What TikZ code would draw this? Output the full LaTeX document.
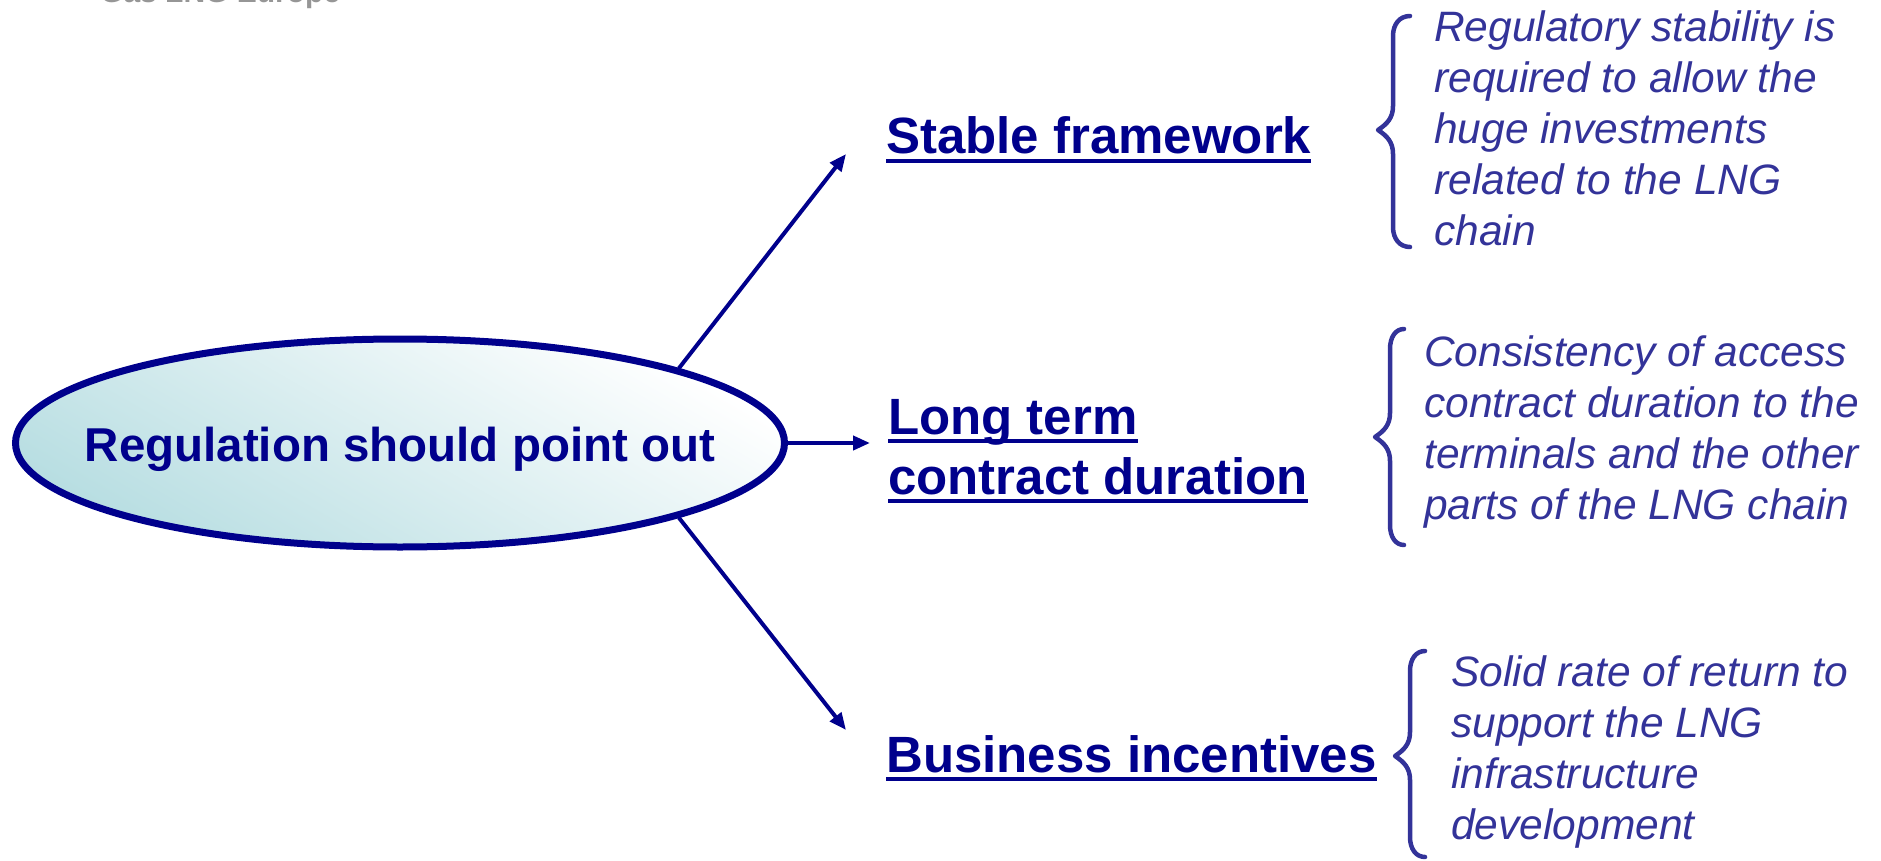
\documentclass[tikz,border=0pt]{standalone}
\usepackage{fontspec}
\setmainfont{Liberation Sans}
\usetikzlibrary{shapes.geometric,arrows.meta}
\definecolor{navy}{RGB}{0,0,140}
\definecolor{descc}{RGB}{51,51,153}
\definecolor{tealc}{RGB}{184,222,226}
\definecolor{logoc}{RGB}{150,150,150}
\newcommand{\ulin}[1]{\setbox0\hbox{#1}\rlap{\rule[-0.18em]{\wd0}{0.09em}}\box0}
\newcommand{\mybrace}[6]{% xr xm xt yt ym yb
\draw[bracec] (#1,#4) .. controls ({#2+0.4*(#1-#2)},#4) and (#2,{#4+8}) .. (#2,{#4+20})
  -- (#2,{#5-24}) .. controls (#2,{#5-12}) and ({#3+9},{#5-6}) .. (#3,#5)
  .. controls ({#3+9},{#5+6}) and (#2,{#5+12}) .. (#2,{#5+24})
  -- (#2,{#6-20}) .. controls (#2,{#6-8}) and ({#2+0.4*(#1-#2)},#6) .. (#1,#6);}
\begin{document}
\begin{tikzpicture}[x=1pt,y=-1pt,
  head/.style={anchor=base west, inner sep=0pt, text=navy, font=\fontsize{51}{60}\selectfont\bfseries},
  desc/.style={anchor=base west, inner sep=0pt, text=descc, font=\fontsize{42.5}{51}\selectfont\itshape},
  logo/.style={anchor=base west, inner sep=0pt, text=logoc, font=\fontsize{30}{36}\selectfont\bfseries},
  conn/.style={draw=navy, line width=4pt, -{Triangle[length=17pt,width=14pt]}},
  bracec/.style={draw=descc, line width=4.5pt, line cap=round, line join=round}]
\useasboundingbox (0,0) rectangle (1881,861);

\node[logo] (logo) at (100,2.5) {Gas LNG Europe};

\node[ellipse, draw=navy, line width=7pt, top color=white, bottom color=tealc, shading angle=-30,
  minimum width=769pt, minimum height=208pt, inner sep=0pt, text=navy,
  font=\fontsize{47.5}{57}\selectfont\bfseries, text height=36pt, text depth=0pt]
  (reg) at (400,443) {\makebox[0pt]{Regulation should point out}};

\node[head] (sf) at (886,154) {\ulin{Stable framework}};
\node[head] (lt) at (888,434) {\begin{tabular}[t]{@{}l@{}}\ulin{Long term}\\\ulin{contract duration}\end{tabular}};
\node[head] (bi) at (886,772) {\ulin{Business incentives}};

\coordinate (t1) at (846,154);
\coordinate (t2) at (870,443);
\coordinate (t3) at (846,730);
\draw[conn] (reg.15) -- (t1);
\draw[conn] (reg.east) -- (t2);
\draw[conn] (reg.-15) -- (t3);

\mybrace{1410}{1393}{1378}{16}{130}{247}
\mybrace{1404}{1390}{1375}{329}{437}{545}
\mybrace{1425}{1410}{1395}{651}{756}{857}

\node[desc] (d1) at (1434,42) {\begin{tabular}[t]{@{}l@{}}Regulatory stability is\\required to allow the\\huge investments\\related to the LNG\\chain\end{tabular}};
\node[desc] (d2) at (1424,366) {\begin{tabular}[t]{@{}l@{}}Consistency of access\\contract duration to the\\terminals and the other\\parts of the LNG chain\end{tabular}};
\node[desc] (d3) at (1451,686) {\begin{tabular}[t]{@{}l@{}}Solid rate of return to\\support the LNG\\infrastructure\\development\end{tabular}};
\end{tikzpicture}
\end{document}
